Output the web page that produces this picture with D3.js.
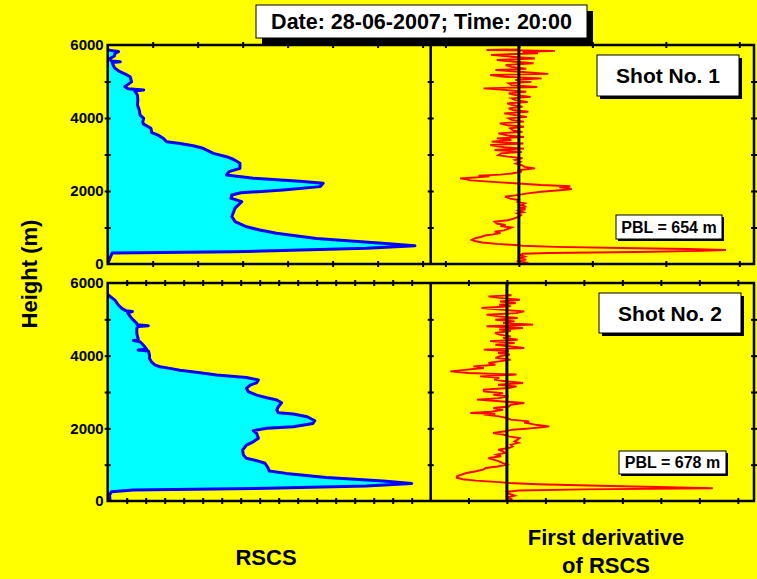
<!DOCTYPE html>
<html>
<head>
<meta charset="utf-8">
<script src="https://cdn.jsdelivr.net/npm/d3@7"></script>
<style>
  html, body { margin: 0; padding: 0; background: #ffff00; }
  svg { display: block; }
  text { font-family: "Liberation Sans", Arial, sans-serif; font-weight: bold; fill: #000; }
</style>
</head>
<body>
<svg id="chart" width="757" height="579"></svg>
<script>
// ---- Data -------------------------------------------------------------
const titleText = "Date: 28-06-2007; Time: 20:00";
const shotLabels = ["Shot No. 1", "Shot No. 2"];
const pblLabels = ["PBL = 654 m", "PBL = 678 m"];
const heightTicks = [0, 2000, 4000, 6000];

// Range-scaled corrected signal, shot 1 (height in m, signal in a.u.)
const rscs1Heights = [0, 160, 300, 337, 430, 500, 567, 700, 840, 930, 1020, 1160, 1300, 1530, 1710, 1800, 1890, 1950, 2030, 2120, 2210, 2270, 2350, 2440, 2530, 2620, 2760, 2870, 2940, 3030, 3170, 3240, 3300, 3350, 3440, 3530, 3600, 3720, 3840, 3900, 3990, 4080, 4220, 4360, 4490, 4630, 4740, 4770, 4800, 4860, 4990, 5130, 5210, 5270, 5360, 5450, 5520, 5540, 5560, 5630, 5700, 5770, 5820, 5860, 5900];
const rscs1Values  = [0, 0.05, 0.1, 2.8, 5.75, 6.83, 6.1, 4.64, 3.75, 3.38, 3.09, 2.83, 2.76, 2.83, 2.98, 2.74, 2.76, 2.96, 3.9, 4.72, 4.79, 4.27, 3.24, 2.64, 2.7, 2.94, 2.94, 2.79, 2.64, 2.35, 2.12, 1.9, 1.61, 1.31, 1.24, 1.12, 0.98, 0.96, 0.79, 0.78, 0.8, 0.72, 0.7, 0.66, 0.67, 0.66, 0.6, 0.8, 0.45, 0.38, 0.53, 0.5, 0.38, 0.27, 0.16, 0.12, 0.1, 0.28, 0.08, 0.05, 0.15, 0.16, 0.24, 0.02, 0];

// Range-scaled corrected signal, shot 2
const rscs2Heights = [0, 30, 165, 256, 300, 350, 410, 485, 550, 650, 760, 825, 900, 1040, 1110, 1175, 1265, 1400, 1540, 1630, 1725, 1860, 1935, 2000, 2045, 2135, 2210, 2320, 2395, 2430, 2505, 2595, 2705, 2780, 2840, 2915, 3010, 3100, 3190, 3255, 3330, 3400, 3470, 3530, 3600, 3650, 3695, 3740, 3830, 3925, 4018, 4130, 4155, 4180, 4293, 4385, 4420, 4450, 4615, 4753, 4800, 4825, 4850, 4890, 5027, 5180, 5215, 5240, 5302, 5394, 5530, 5670];
const rscs2Values  = [0, 0.12, 0.1, 0.2, 1.35, 8.4, 13.6, 16.0, 14.5, 11.5, 9.4, 8.5, 8.45, 8.28, 7.84, 7.3, 7.14, 7.1, 7.3, 7.66, 7.93, 7.84, 7.66, 8.37, 9.77, 10.8, 10.9, 10.5, 9.77, 8.98, 8.9, 8.98, 9.15, 8.9, 8.37, 7.84, 7.4, 7.3, 7.5, 7.84, 7.93, 7.3, 5.74, 4.86, 3.8, 3.28, 2.75, 2.5, 2.3, 2.2, 2.2, 2.14, 1.6, 2.05, 1.87, 1.7, 1.35, 1.61, 1.53, 1.53, 1.6, 2.14, 1.55, 1.53, 1.26, 1.05, 1.3, 0.95, 0.74, 0.56, 0.38, 0.03];

// First derivative of RSCS, shot 1
const deriv1Heights = [0, 40, 80, 120, 160, 200, 240, 280, 300, 330, 360, 384, 410, 440, 470, 500, 520, 550, 590, 630, 660, 700, 740, 780, 810, 850, 886, 920, 960, 1000, 1040, 1069, 1110, 1160, 1200, 1251, 1300, 1340, 1388, 1420, 1460, 1500, 1540, 1571, 1610, 1662, 1700, 1754, 1790, 1845, 1880, 1936, 1980, 2027, 2050, 2073, 2100, 2130, 2165, 2200, 2230, 2256, 2290, 2320, 2347, 2370, 2400, 2420, 2450, 2480, 2530, 2570, 2621, 2660, 2713, 2750, 2800, 2850, 2900, 2941, 2980, 3032, 3070, 3123, 3160, 3200, 3260, 3300, 3352, 3400, 3443, 3480, 3520, 3580, 3620, 3660, 3717, 3760, 3800, 3854, 3900, 3950, 3991, 4030, 4080, 4128, 4170, 4220, 4265, 4310, 4360, 4402, 4440, 4490, 4539, 4580, 4630, 4676, 4720, 4770, 4813, 4850, 4900, 4950, 4990, 5040, 5087, 5130, 5178, 5210, 5260, 5315, 5350, 5400, 5452, 5500, 5540, 5589, 5630, 5680, 5730, 5772, 5810, 5840, 5864, 5880];
const deriv1Values  = [0.06, 0.1, -0.03, 0.1, 0.0, 0.08, 0.02, 0.05, 0.4, 1.6, 2.5, 2.82, 2.3, 1.4, 0.5, 0.05, -0.05, -0.3, -0.5, -0.6, -0.64, -0.6, -0.52, -0.46, -0.35, -0.25, -0.33, -0.2, -0.15, -0.1, -0.25, -0.18, -0.3, -0.33, -0.15, -0.06, 0.0, 0.03, -0.02, 0.06, 0.0, 0.09, 0.02, 0.1, 0.03, 0.08, -0.02, 0.0, -0.12, -0.19, -0.05, 0.12, 0.3, 0.6, 0.72, 0.68, 0.55, 0.7, 0.3, 0.05, -0.2, -0.4, -0.65, -0.72, -0.8, -0.6, -0.4, -0.55, -0.25, -0.1, 0.04, -0.02, 0.22, 0.08, 0.03, -0.04, 0.02, -0.05, 0.05, -0.15, -0.28, -0.24, 0.04, -0.33, 0.07, -0.2, -0.39, 0.06, -0.37, -0.1, -0.3, 0.07, -0.15, -0.28, 0.05, -0.08, -0.12, 0.07, -0.15, -0.26, 0.07, -0.1, -0.14, 0.11, -0.05, -0.2, 0.13, -0.08, -0.14, 0.05, -0.1, -0.16, 0.12, -0.05, -0.1, 0.16, -0.05, -0.14, 0.1, -0.2, -0.48, 0.25, -0.1, -0.14, 0.17, -0.05, 0.31, -0.2, -0.39, 0.4, 0.05, -0.32, 0.1, -0.1, -0.18, 0.2, -0.05, -0.3, 0.22, -0.1, -0.38, 0.26, 0.05, 0.49, -0.44, 0.0];

// First derivative of RSCS, shot 2
const deriv2Heights = [0, 50, 100, 150, 200, 250, 290, 320, 350, 380, 420, 460, 495, 520, 560, 600, 640, 679, 720, 771, 820, 870, 908, 950, 1000, 1040, 1092, 1140, 1183, 1230, 1275, 1320, 1370, 1413, 1460, 1500, 1550, 1600, 1642, 1690, 1734, 1780, 1830, 1871, 1920, 1963, 2000, 2030, 2055, 2090, 2130, 2160, 2192, 2240, 2284, 2330, 2376, 2400, 2422, 2460, 2510, 2559, 2600, 2650, 2697, 2740, 2789, 2830, 2880, 2926, 2970, 3018, 3064, 3110, 3155, 3200, 3247, 3290, 3339, 3390, 3431, 3480, 3522, 3568, 3610, 3660, 3706, 3750, 3800, 3844, 3890, 3940, 3981, 4030, 4073, 4120, 4165, 4211, 4260, 4300, 4349, 4400, 4440, 4490, 4532, 4580, 4623, 4680, 4720, 4761, 4810, 4853, 4900, 4945, 4990, 5036, 5080, 5128, 5170, 5220, 5260, 5311, 5360, 5400, 5449, 5490, 5540, 5590, 5633, 5660, 5680];
const deriv2Values  = [0.05, 0.12, 0.02, 0.2, 0.05, 0.0, 0.3, 2.0, 5.35, 4.2, 2.4, 0.8, 0.05, -0.2, -0.8, -1.15, -1.3, -1.3, -1.2, -1.05, -0.8, -0.6, -0.55, -0.25, 0.0, -0.1, -0.2, -0.35, -0.48, -0.15, -0.27, -0.05, -0.1, -0.23, 0.05, 0.15, 0.1, 0.3, 0.2, 0.28, 0.33, 0.05, -0.1, -0.36, -0.05, 0.15, 0.6, 0.9, 1.1, 0.8, 0.6, 0.45, 0.58, 0.1, 0.0, -0.2, -0.6, -0.3, -0.95, -0.4, -0.1, -0.35, 0.05, 0.1, 0.45, -0.1, -0.78, -0.2, 0.04, -0.35, -0.1, -0.6, -0.6, 0.05, 0.25, -0.23, 0.42, 0.0, -0.33, -0.2, -0.7, 0.25, -1.0, -1.47, -1.1, -0.6, -0.87, -0.3, -0.48, -0.2, 0.1, -0.3, -0.2, 0.08, -0.23, 0.05, -0.6, 0.45, 0.05, -0.3, 0.2, -0.44, 0.28, -0.1, 0.1, -0.2, -0.31, 0.1, -0.2, 0.42, -0.53, 0.68, -0.1, 0.2, -0.3, 0.28, -0.23, -0.53, 0.24, 0.45, -0.1, -0.66, 0.1, -0.2, 0.23, -0.18, 0.34, -0.2, -0.48, 0.12, 0.0];

// ---- Layout -----------------------------------------------------------
const svg = d3.select("#chart");
const xLeft = 107.7, xMid = 430.7, xRight = 754;

const panels = [
  {
    top: 45, bottom: 264,
    rscsH: rscs1Heights, rscsV: rscs1Values, rscsMax: 7.18,
    derH: deriv1Heights, derV: deriv1Values, derDomain: [-1.2, 3.2],
    shot: shotLabels[0], pbl: pblLabels[0],
    shotBox: [597, 55, 142, 41], pblBox: [616, 215, 106, 24]
  },
  {
    top: 283, bottom: 501,
    rscsH: rscs2Heights, rscsV: rscs2Values, rscsMax: 17,
    derH: deriv2Heights, derV: deriv2Values, derDomain: [-1.98, 6.42],
    shot: shotLabels[1], pbl: pblLabels[1],
    shotBox: [599, 293, 142, 40], pblBox: [619, 451, 107, 23]
  }
];

svg.append("rect").attr("width", 757).attr("height", 579).attr("fill", "#ffff00");

function crossTicks(g, orient) {
  // turn axis ticks into short marks crossing the frame line
  g.select(".domain").remove();
  g.selectAll(".tick line")
    .attr("stroke", "#000").attr("stroke-width", 2)
    .each(function () {
      const l = d3.select(this);
      if (orient === "h") l.attr("y1", -3).attr("y2", 3);
      else l.attr("x1", -3).attr("x2", 3);
    });
}

function labelBox(x, y, w, h, off, text, size) {
  svg.append("rect").attr("x", x + off).attr("y", y + off).attr("width", w).attr("height", h).attr("fill", "#000");
  svg.append("rect").attr("x", x).attr("y", y).attr("width", w).attr("height", h)
    .attr("fill", "#fff").attr("stroke", "#000").attr("stroke-width", 1);
  svg.append("text").attr("x", x + w / 2).attr("y", y + h / 2 + size * 0.36)
    .attr("text-anchor", "middle").attr("font-size", size).text(text);
}

panels.forEach((p, i) => {
  const y = d3.scaleLinear().domain([0, 6000]).range([p.bottom, p.top]);
  const xr = d3.scaleLinear().domain([0, p.rscsMax]).range([xLeft, xMid]);
  const xd = d3.scaleLinear().domain(p.derDomain).range([xMid, xRight]);

  const clipId = "clip" + i;
  svg.append("clipPath").attr("id", clipId)
    .append("rect").attr("x", xLeft).attr("y", p.top).attr("width", xRight - xLeft).attr("height", p.bottom - p.top);

  const plot = svg.append("g").attr("clip-path", `url(#${clipId})`);

  // RSCS profile: filled area against the zero axis plus outline
  const rscs = p.rscsH.map((h, k) => ({ h, v: p.rscsV[k] }));
  plot.append("path").datum(rscs)
    .attr("fill", "#00ffff")
    .attr("d", d3.area().y(d => y(d.h)).x0(xr(0)).x1(d => xr(d.v)));
  plot.append("path").datum(rscs)
    .attr("fill", "none").attr("stroke", "#0000ff").attr("stroke-width", 3).attr("stroke-linejoin", "round")
    .attr("d", d3.line().y(d => y(d.h)).x(d => xr(d.v)));

  // derivative profile
  const der = p.derH.map((h, k) => ({ h, v: p.derV[k] }));
  plot.append("path").datum(der)
    .attr("fill", "none").attr("stroke", "#ff0000").attr("stroke-width", 1.9).attr("stroke-linejoin", "miter")
    .attr("d", d3.line().y(d => y(d.h)).x(d => xd(d.v)));

  // zero line of the derivative
  svg.append("line").attr("x1", xd(0)).attr("x2", xd(0)).attr("y1", p.top).attr("y2", p.bottom)
    .attr("stroke", "#000").attr("stroke-width", 3);

  // frame
  svg.append("rect").attr("x", xLeft).attr("y", p.top).attr("width", xRight - xLeft).attr("height", p.bottom - p.top)
    .attr("fill", "none").attr("stroke", "#000").attr("stroke-width", 2.5);
  svg.append("line").attr("x1", xMid).attr("x2", xMid).attr("y1", p.top).attr("y2", p.bottom)
    .attr("stroke", "#000").attr("stroke-width", 2.5);

  // horizontal ticks
  const rTicks = d3.range(1, Math.floor(p.rscsMax) + 1).filter(t => xr(t) < xMid - 4);
  const dTicks = d3.range(Math.ceil(p.derDomain[0]), Math.floor(p.derDomain[1]) + 1);
  [p.top, p.bottom].forEach(yy => {
    svg.append("g").attr("transform", `translate(0,${yy})`)
      .call(d3.axisBottom(xr).tickValues(rTicks).tickFormat(""))
      .call(g => crossTicks(g, "h"));
    svg.append("g").attr("transform", `translate(0,${yy})`)
      .call(d3.axisBottom(xd).tickValues(dTicks).tickFormat(""))
      .call(g => crossTicks(g, "h"));
  });

  // vertical ticks on frame lines
  const hMinor = [1000, 2000, 3000, 4000, 5000];
  [xLeft, xMid, xRight].forEach(xx => {
    svg.append("g").attr("transform", `translate(${xx},0)`)
      .call(d3.axisLeft(y).tickValues(hMinor).tickFormat(""))
      .call(g => crossTicks(g, "v"));
  });

  // height labels
  svg.append("g").attr("transform", `translate(${xLeft},0)`)
    .call(d3.axisLeft(y).tickValues(heightTicks).tickSize(0).tickPadding(4).tickFormat(d3.format("d")))
    .call(g => {
      g.select(".domain").remove();
      g.selectAll("text").attr("font-size", 15).attr("font-family", "Liberation Sans, Arial, sans-serif")
        .attr("font-weight", "bold").attr("fill", "#000");
    });

  labelBox(...p.shotBox, 3, p.shot, 21);
  labelBox(...p.pblBox, 2, p.pbl, 16);
});

// title box
labelBox(256, 5, 331, 33, 6, titleText, 21.5);
svg.append("rect").attr("x", 262).attr("y", 38.5).attr("width", 331).attr("height", 6.5).attr("fill", "#000");

// axis titles
svg.append("text").attr("transform", "translate(37,274) rotate(-90)")
  .attr("text-anchor", "middle").attr("font-size", 22).text("Height (m)");
svg.append("text").attr("x", 266).attr("y", 565).attr("text-anchor", "middle").attr("font-size", 22).text("RSCS");
svg.append("text").attr("x", 606).attr("y", 545).attr("text-anchor", "middle").attr("font-size", 22).text("First derivative");
svg.append("text").attr("x", 606).attr("y", 573).attr("text-anchor", "middle").attr("font-size", 22).text("of RSCS");
</script>
</body>
</html>
